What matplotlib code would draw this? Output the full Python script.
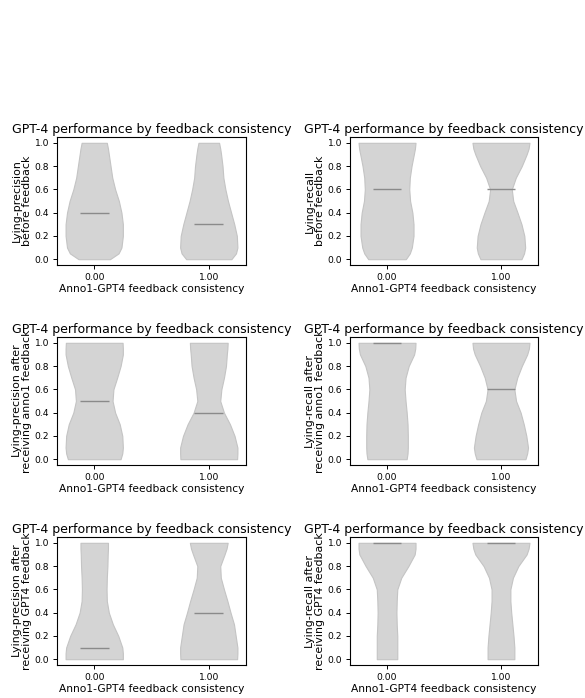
import matplotlib
matplotlib.use("Agg")
import matplotlib.pyplot as plt

# ===== DATA =====
consistency = [0.0, 1.0]
xtick_labels = ["0.00", "1.00"]
title = "GPT-4 performance by feedback consistency"
xlabel = "Anno1-GPT4 feedback consistency"

ylabels = [
    "Lying-precision\nbefore feedback",
    "Lying-recall\nbefore feedback",
    "Lying-precision after\nreceiving anno1 feedback",
    "Lying-recall after\nreceiving anno1 feedback",
    "Lying-precision after\nreceiving GPT4 feedback",
    "Lying-recall after\nreceiving GPT4 feedback",
]

# score levels at which the violin width was read
levels = [0.0, 0.05, 0.1, 0.2, 0.3, 0.4, 0.5, 0.6, 0.7, 0.8, 0.9, 0.95, 1.0]

# relative violin widths (density) per level
prec_before_0 = [0.55, 0.85, 0.95, 1.0, 1.0, 0.95, 0.86, 0.73, 0.63, 0.57, 0.51, 0.48, 0.44]
prec_before_1 = [0.79, 0.95, 1.0, 0.98, 0.89, 0.78, 0.67, 0.58, 0.51, 0.48, 0.43, 0.4, 0.36]
rec_before_0 = [0.66, 0.8, 0.87, 0.93, 0.93, 0.89, 0.81, 0.78, 0.8, 0.86, 0.94, 0.98, 1.0]
rec_before_1 = [0.72, 0.81, 0.85, 0.82, 0.72, 0.58, 0.43, 0.38, 0.52, 0.73, 0.9, 0.97, 1.0]
prec_anno_0 = [0.92, 0.98, 1.0, 0.98, 0.89, 0.73, 0.64, 0.67, 0.8, 0.92, 1.0, 1.0, 0.99]
prec_anno_1 = [0.99, 1.0, 1.0, 0.9, 0.74, 0.53, 0.4, 0.44, 0.53, 0.6, 0.63, 0.65, 0.66]
rec_anno_0 = [0.69, 0.72, 0.73, 0.73, 0.72, 0.69, 0.65, 0.62, 0.65, 0.76, 0.95, 0.99, 1.0]
rec_anno_1 = [0.86, 0.92, 0.95, 0.89, 0.8, 0.69, 0.53, 0.47, 0.57, 0.73, 0.92, 0.98, 1.0]
prec_gpt_0 = [1.0, 1.0, 0.98, 0.84, 0.65, 0.51, 0.44, 0.43, 0.44, 0.46, 0.47, 0.48, 0.48]
prec_gpt_1 = [0.99, 1.0, 1.0, 0.94, 0.88, 0.76, 0.65, 0.53, 0.42, 0.4, 0.55, 0.62, 0.66]
rec_gpt_0 = [0.36, 0.36, 0.36, 0.36, 0.34, 0.33, 0.34, 0.36, 0.5, 0.75, 0.97, 1.0, 1.0]
rec_gpt_1 = [0.47, 0.47, 0.47, 0.44, 0.4, 0.36, 0.33, 0.33, 0.42, 0.61, 0.9, 0.97, 1.0]

# medians per panel: (consistency 0, consistency 1)
medians = [(0.4, 0.3), (0.6, 0.6), (0.5, 0.4), (1.0, 0.6), (0.1, 0.4), (1.0, 1.0)]

panels = [
    [prec_before_0, prec_before_1], [rec_before_0, rec_before_1],
    [prec_anno_0, prec_anno_1], [rec_anno_0, rec_anno_1],
    [prec_gpt_0, prec_gpt_1], [rec_gpt_0, rec_gpt_1],
]

# ===== LAYOUT (pixels of the 585x698 canvas) =====
W, H = 585, 698
col_x = [(57, 246), (350, 538)]
row_y = [(137, 265), (337, 465), (537, 665)]

fig = plt.figure(figsize=(W / 100, H / 100), dpi=100)

for i, dens in enumerate(panels):
    r, c = divmod(i, 2)
    x0, x1 = col_x[c]
    y0, y1 = row_y[r]
    ax = fig.add_axes([x0 / W, 1 - y1 / H, (x1 - x0) / W, (y1 - y0) / H])
    vpstats = []
    for vals, med in zip(dens, medians[i]):
        vpstats.append({"coords": levels, "vals": vals, "mean": med,
                        "median": med, "min": levels[0], "max": levels[-1]})
    parts = ax.violin(vpstats, positions=consistency, widths=0.5,
                      showmedians=True, showextrema=False)
    for body in parts["bodies"]:
        body.set_facecolor("#d4d4d4")
        body.set_edgecolor("#c4c4c4")
        body.set_linewidth(0.8)
        body.set_alpha(1)
    parts["cmedians"].set_color("#8a8a8a")
    parts["cmedians"].set_linewidth(1.0)
    ax.set_xticks(consistency)
    ax.set_xticklabels(xtick_labels)
    ax.set_yticks([0, 0.2, 0.4, 0.6, 0.8, 1.0])
    ax.tick_params(labelsize=6.6, length=3, width=0.7, pad=2.5)
    for sp in ax.spines.values():
        sp.set_linewidth(0.8)
    ax.set_title(title, fontsize=9.0, pad=3)
    ax.set_xlabel(xlabel, fontsize=7.7, labelpad=1.5)
    ax.set_ylabel(ylabels[i], fontsize=7.9, labelpad=2, linespacing=0.95)

fig.savefig("out.png", dpi=100)
